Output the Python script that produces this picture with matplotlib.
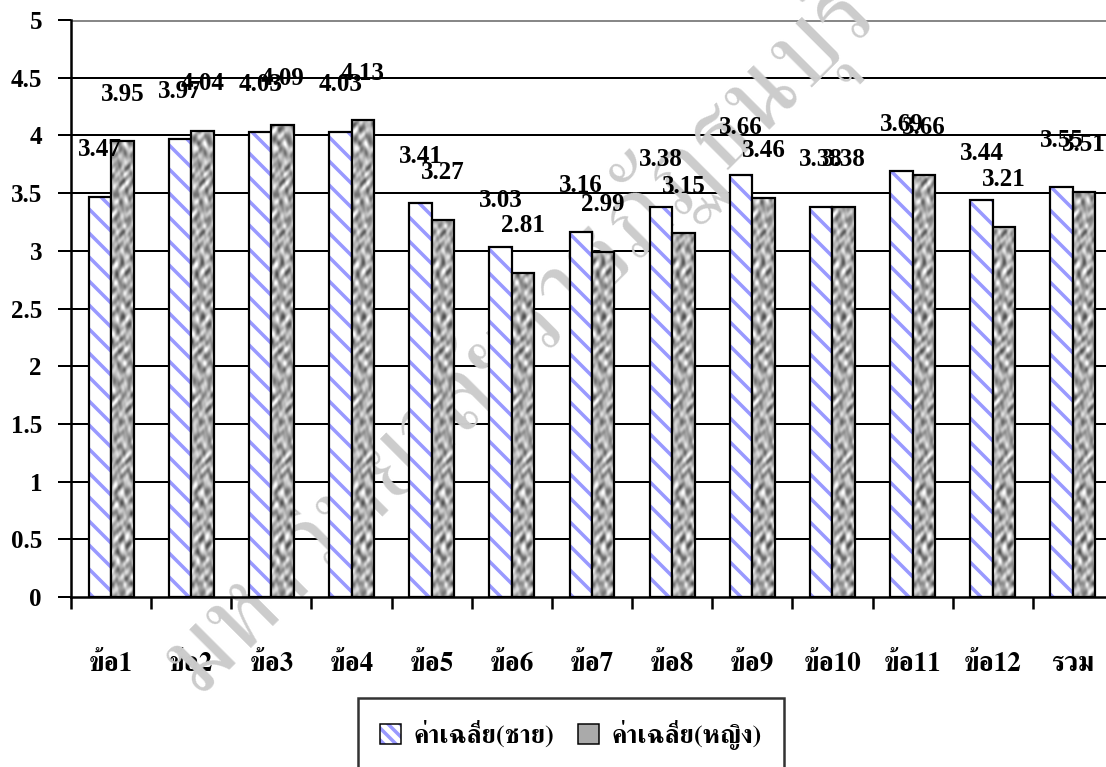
import numpy as np
import matplotlib
matplotlib.use("Agg")
import matplotlib.pyplot as plt
from matplotlib import font_manager
from matplotlib.ft2font import FT2Font
from matplotlib.patches import Patch

categories = ["ข้อ1", "ข้อ2", "ข้อ3", "ข้อ4", "ข้อ5", "ข้อ6", "ข้อ7",
              "ข้อ8", "ข้อ9", "ข้อ10", "ข้อ11", "ข้อ12", "รวม"]
male = [3.47, 3.97, 4.03, 4.03, 3.41, 3.03, 3.16, 3.38, 3.66, 3.38, 3.69, 3.44, 3.55]
female = [3.95, 4.04, 4.09, 4.13, 3.27, 2.81, 2.99, 3.15, 3.46, 3.38, 3.66, 3.21, 3.51]
series_names = ["ค่าเฉลี่ย(ชาย)", "ค่าเฉลี่ย(หญิง)"]
yticks = [0, 0.5, 1, 1.5, 2, 2.5, 3, 3.5, 4, 4.5, 5]
watermark = "มหาวิทยาลัยราชภัฏธนบุรี"

STRIPE = matplotlib.colors.to_rgba("#9999ff")


def find_thai_font():
    """Return family names that have Thai glyphs, serif first."""
    found = []
    for f in font_manager.fontManager.ttflist:
        try:
            cmap = FT2Font(f.fname).get_charmap()
        except Exception:
            continue
        if ord("ข") in cmap and ord("้") in cmap:
            found.append(f.name)
    return sorted(set(found), key=lambda n: (("Serif" not in n), n))


thai = find_thai_font()
serif = ["Liberation Serif", "DejaVu Serif"]
thai_fam = thai[:1] + serif if thai else serif

W, H, DPI = 1106, 767, 72
plt.rcParams["hatch.linewidth"] = 3.5
fig = plt.figure(figsize=(W / DPI, H / DPI), dpi=DPI, facecolor="white")
ax = fig.add_axes([71 / W, 1 - 597 / H, 1042 / W, 577 / H])

x = np.arange(len(categories))
bw = 0.28

# grid
for v in yticks[1:-1]:
    ax.axhline(v, color="black", lw=2, zorder=1)
ax.axhline(5, color="#888888", lw=3, zorder=1)

bars_m = ax.bar(x - bw / 2, male, bw, facecolor="white", edgecolor="black",
                hatch="\\", lw=2.2, zorder=3)
for b in bars_m:
    b._hatch_color = STRIPE

# granite-like texture for the second series (deterministic, pixel scale)
ty, tx = np.mgrid[0:520, 0:24].astype(float)
tex = (np.sin(tx * 0.55 + 1.8 * np.sin(ty * 0.23))
       + np.sin(ty * 0.47 + 1.5 * np.sin(tx * 0.41 + ty * 0.13))
       + 0.8 * np.sin((tx + 0.6 * ty) * 0.71 + 2 * np.cos(ty * 0.11))
       + 0.6 * np.cos((tx - ty) * 0.37 + np.sin(tx * 0.9)))
bars_f = ax.bar(x + bw / 2, female, bw, facecolor="none", edgecolor="black",
                lw=2.2, zorder=4)
px_per_unit = 577 / 5
for b in bars_f:
    x0, w_, h_ = b.get_x(), b.get_width(), b.get_height()
    n = int(h_ * px_per_unit)
    im = ax.imshow(tex[-n:], cmap="gray", vmin=-6.0, vmax=3.0, aspect="auto",
                   extent=[x0, x0 + w_, 0, h_], zorder=3.5, interpolation="bilinear")
    im.set_clip_path(b)

# value labels
for bars, vals in ((bars_m, male), (bars_f, female)):
    for b, v in zip(bars, vals):
        ax.annotate(f"{v:.2f}", (b.get_x() + b.get_width() / 2, v), xytext=(0, 47),
                    textcoords="offset pixels", ha="center", va="center",
                    fontsize=25, fontweight="bold", family=serif, zorder=6)

ax.set_xlim(-0.5, len(categories) - 0.5)
ax.set_ylim(0, 5)
ax.set_yticks(yticks)
ax.set_yticklabels([f"{v:g}" for v in yticks], fontsize=25, fontweight="bold", family=serif)
ax.tick_params(axis="y", direction="out", length=13, width=2, pad=16)

ax.set_xticks(x)
ax.set_xticklabels(categories, fontsize=27, fontweight="bold", family=thai_fam)
ax.set_xticks(np.arange(len(categories) + 1) - 0.5, minor=True)
ax.tick_params(axis="x", which="major", length=0, pad=55)
ax.tick_params(axis="x", which="minor", direction="out", length=12, width=2.5)

for s in ("top", "right"):
    ax.spines[s].set_visible(False)
for s in ("left", "bottom"):
    ax.spines[s].set_linewidth(2.5)
ax.set_facecolor("none")

# faint watermark behind the bars
if thai:
    ax.text(520 / W, 1 - 335 / H, watermark, transform=fig.transFigure, rotation=45,
            ha="center", va="center", fontsize=108, color="#cccccc", fontweight="light",
            family=thai_fam, zorder=2)

handles = [Patch(facecolor="white", edgecolor="black", hatch="\\\\", lw=1.5),
           Patch(facecolor="#aaaaaa", edgecolor="black", lw=1.5)]
leg = fig.legend(handles, series_names, loc="upper center",
                 bbox_to_anchor=(571 / W, 1 - 698 / H), ncol=2, frameon=True,
                 fancybox=False, edgecolor="black",
                 prop={"family": thai_fam, "size": 26, "weight": "bold"},
                 handlelength=0.8, handleheight=0.8, handletextpad=0.5, columnspacing=0.9,
                 borderpad=0.85, borderaxespad=0)
leg.get_frame().set_linewidth(2.5)
leg.legend_handles[0]._hatch_color = STRIPE

fig.savefig("out.png", dpi=DPI)
